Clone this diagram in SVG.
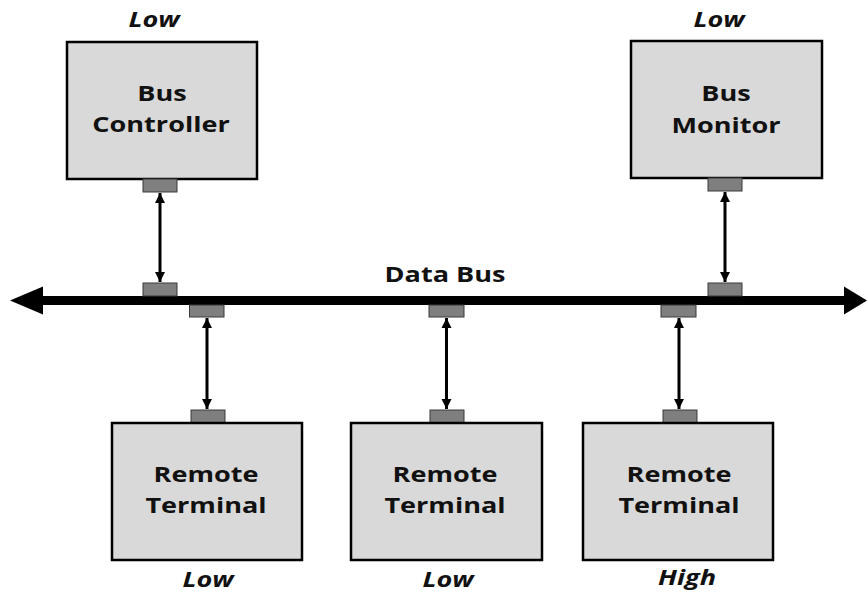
<svg xmlns="http://www.w3.org/2000/svg" width="868" height="592" viewBox="0 0 868 592">
<style>
.box{fill:#d9d9d9;stroke:#000;stroke-width:2.5}
.port{fill:#7f7f7f;stroke:#3a3a3a;stroke-width:1}
.lbl{font-family:"Open Sans","Liberation Sans",sans-serif;font-weight:700;font-size:22px;fill:#111;text-anchor:middle}
.it{font-style:italic}
.conn{stroke:#000;stroke-width:3;fill:none}
</style>
<defs>
<marker id="ah" viewBox="0 0 10 10" refX="10" refY="5" markerUnits="userSpaceOnUse" markerWidth="10" markerHeight="11" orient="auto-start-reverse">
<path d="M0,0 L10,5 L0,10 z" fill="#000"/>
</marker>
</defs>
<rect width="868" height="592" fill="#fff"/>

<g id="bus">
<rect x="43" y="296" width="801" height="9" fill="#000"/>
<polygon points="10,300.5 43,286.5 43,314.5" fill="#000"/>
<polygon points="867,300.5 844,286.5 844,314.5" fill="#000"/>
<text class="lbl" transform="translate(445,282) scale(1.23,1)" font-size="21">Data Bus</text>
<rect class="port" x="143" y="283" width="34" height="13"/>
<rect class="port" x="708" y="283" width="34" height="13"/>
<rect class="port" x="189.5" y="305" width="34.5" height="12"/>
<rect class="port" x="429" y="305" width="35" height="12"/>
<rect class="port" x="661" y="305" width="35" height="12"/>
</g>

<g id="bus-controller">
<text class="lbl it" transform="translate(154,27) scale(1.23,1)">Low</text>
<rect class="box" x="67" y="42" width="190" height="137"/>
<text class="lbl" transform="translate(162,101) scale(1.23,1)">Bus</text>
<text class="lbl" transform="translate(161,132) scale(1.23,1)">Controller</text>
<rect class="port" x="143" y="179" width="34" height="13"/>
</g>

<g id="bus-monitor">
<text class="lbl it" transform="translate(719,27) scale(1.23,1)">Low</text>
<rect class="box" x="631" y="41" width="191" height="137"/>
<text class="lbl" transform="translate(726,101) scale(1.23,1)">Bus</text>
<text class="lbl" transform="translate(726,133) scale(1.23,1)">Monitor</text>
<rect class="port" x="708" y="178" width="34" height="13"/>
</g>

<g id="remote-terminal-1">
<rect class="port" x="191" y="410" width="34" height="13"/>
<rect class="box" x="112" y="423" width="190" height="137"/>
<text class="lbl" transform="translate(206,482) scale(1.23,1)">Remote</text>
<text class="lbl" transform="translate(206,513) scale(1.23,1)">Terminal</text>
<text class="lbl it" transform="translate(208,587) scale(1.23,1)">Low</text>
</g>

<g id="remote-terminal-2">
<rect class="port" x="430" y="410" width="34" height="13"/>
<rect class="box" x="351" y="423" width="191" height="137"/>
<text class="lbl" transform="translate(445,482) scale(1.23,1)">Remote</text>
<text class="lbl" transform="translate(445,513) scale(1.23,1)">Terminal</text>
<text class="lbl it" transform="translate(448,587) scale(1.23,1)">Low</text>
</g>

<g id="remote-terminal-3">
<rect class="port" x="663" y="410" width="34" height="13"/>
<rect class="box" x="583" y="423" width="190" height="137"/>
<text class="lbl" transform="translate(679,482) scale(1.23,1)">Remote</text>
<text class="lbl" transform="translate(679,513) scale(1.23,1)">Terminal</text>
<text class="lbl it" transform="translate(687,585) scale(1.23,1)">High</text>
</g>

<g id="connectors">
<line class="conn" x1="160" y1="193" x2="160" y2="282" marker-start="url(#ah)" marker-end="url(#ah)"/>
<line class="conn" x1="725" y1="192" x2="725" y2="282" marker-start="url(#ah)" marker-end="url(#ah)"/>
<line class="conn" x1="207" y1="318" x2="207" y2="409" marker-start="url(#ah)" marker-end="url(#ah)"/>
<line class="conn" x1="446.5" y1="318" x2="446.5" y2="409" marker-start="url(#ah)" marker-end="url(#ah)"/>
<line class="conn" x1="679" y1="318" x2="679" y2="409" marker-start="url(#ah)" marker-end="url(#ah)"/>
</g>
</svg>
